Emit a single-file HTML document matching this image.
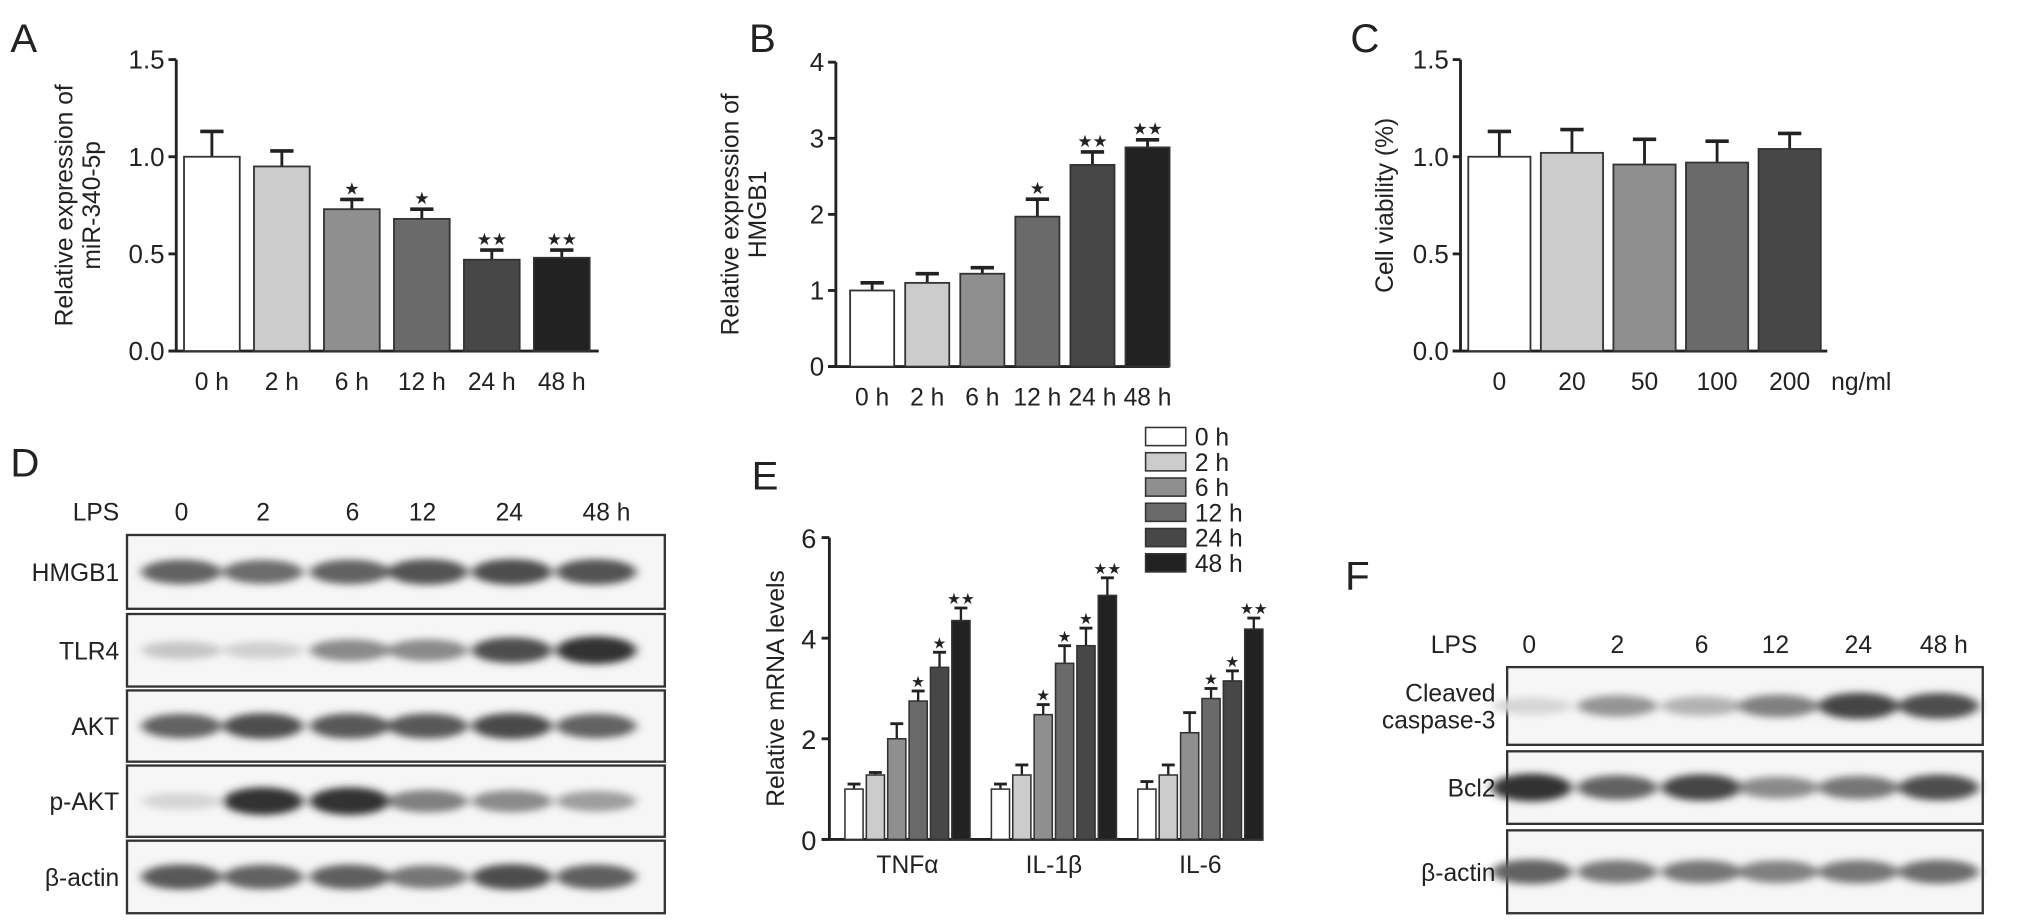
<!DOCTYPE html>
<html><head><meta charset="utf-8">
<style>
html,body{margin:0;padding:0;background:#fff;}
svg{display:block;}
text{font-family:"Liberation Sans",Arial,sans-serif;fill:#222;}
</style></head>
<body>
<svg id="fig" width="2032" height="921" viewBox="0 0 1568 711" preserveAspectRatio="none" xmlns="http://www.w3.org/2000/svg">
<defs>
<filter id="blur" x="-30%" y="-100%" width="160%" height="300%"><feGaussianBlur stdDeviation="4 2.8"/></filter>
</defs>
<g id="root"></g>
</svg>
<script>
// ---- Panel A data ----
const aCats = ["0 h","2 h","6 h","12 h","24 h","48 h"];
const aVals = [1.0,0.95,0.73,0.68,0.47,0.48];
const aErrs = [0.13,0.08,0.05,0.05,0.05,0.04];
const aStars = ["","","*","*","**","**"];
const aTicks = [0,0.5,1.0,1.5];
const aTickLabels = ["0.0","0.5","1.0","1.5"];
// ---- Panel B data ----
const bCats = ["0 h","2 h","6 h","12 h","24 h","48 h"];
const bVals = [1.0,1.1,1.22,1.97,2.65,2.88];
const bErrs = [0.1,0.12,0.08,0.23,0.17,0.1];
const bStars = ["","","","*","**","**"];
const bTicks = [0,1,2,3,4];
const bTickLabels = ["0","1","2","3","4"];
// ---- Panel C data ----
const cCats = ["0","20","50","100","200"];
const cVals = [1.0,1.02,0.96,0.97,1.04];
const cErrs = [0.13,0.12,0.13,0.11,0.08];
const cTicks = [0,0.5,1.0,1.5];
const cTickLabels = ["0.0","0.5","1.0","1.5"];
// ---- Panel E data ----
const eGroups = ["TNF\u03b1","IL-1\u03b2","IL-6"];
const eSeries = ["0 h","2 h","6 h","12 h","24 h","48 h"];
const eTNF = [1.0,1.28,2.0,2.75,3.42,4.35];
const eTNFerr = [0.1,0.05,0.3,0.2,0.3,0.25];
const eIL1 = [1.0,1.28,2.48,3.5,3.85,4.85];
const eIL1err = [0.1,0.2,0.2,0.35,0.35,0.35];
const eIL6 = [1.0,1.28,2.12,2.8,3.15,4.18];
const eIL6err = [0.15,0.2,0.4,0.2,0.2,0.22];
const eStarsTNF = ["","","","*","*","**"];
const eStarsIL1 = ["","","*","*","*","**"];
const eStarsIL6 = ["","","","*","*","**"];
const eTicks = [0,2,4,6];
const eTickLabels = ["0","2","4","6"];
// ---- Blot data (band darkness 0..1) ----
const dLanes = ["0","2","6","12","24","48 h"];
const dProteins = ["HMGB1","TLR4","AKT","p-AKT","\u03b2-actin"];
const dHMGB1 = [0.7,0.65,0.7,0.78,0.8,0.78];
const dTLR4 = [0.2,0.15,0.5,0.5,0.8,0.95];
const dAKT = [0.7,0.8,0.75,0.75,0.82,0.7];
const dPAKT = [0.12,0.95,0.95,0.55,0.5,0.4];
const dActin = [0.75,0.7,0.72,0.6,0.8,0.72];
const fLanes = ["0","2","6","12","24","48 h"];
const fProteins = ["Cleaved\ncaspase-3","Bcl2","\u03b2-actin"];
const fCasp = [0.12,0.45,0.3,0.55,0.85,0.8];
const fBcl2 = [0.95,0.7,0.85,0.5,0.6,0.8];
const fActin = [0.7,0.6,0.6,0.55,0.6,0.65];

const NS="http://www.w3.org/2000/svg";
const root=document.getElementById('root');
function mk(tag,attrs,parent){const e=document.createElementNS(NS,tag);for(const k in attrs)e.setAttribute(k,attrs[k]);(parent||root).appendChild(e);return e;}
function txt(x,y,s,size,anchor,parent,extra){const t=mk('text',Object.assign({x:x,y:y,'font-size':size,'text-anchor':anchor||'middle'},extra||{}),parent);t.textContent=s;return t;}
const grays6=["#ffffff","#cccccc","#8f8f8f","#6a6a6a","#474747","#222222"];

function panelLetter(s,x,y){const t=txt(x,y,s,31,'start');

}

function barChart(o){
  const g=mk('g',{});
  
  
  const yS=v=>o.y0-(v/o.vmax)*(o.y0-o.ytop);
  mk('line',{x1:o.ax,y1:yS(o.vmax),x2:o.ax,y2:o.y0,stroke:'#222','stroke-width':2.2},g);
  mk('line',{x1:o.ax-6,y1:o.y0,x2:o.xend,y2:o.y0,stroke:'#222','stroke-width':2.2},g);
  o.ticks.forEach((t,i)=>{
    mk('line',{x1:o.ax-6,y1:yS(t),x2:o.ax,y2:yS(t),stroke:'#222','stroke-width':2.2},g);
    const l=txt(o.ax-9,yS(t)+7,o.tickLabels[i],20,'end',g);
    
    
  });
  o.vals.forEach((v,i)=>{
    const x=o.x0+i*o.pitch, w=o.bw;
    const top=yS(v), et=yS(v+o.errs[i]);
    mk('line',{x1:x+w/2,y1:top,x2:x+w/2,y2:et,stroke:'#222','stroke-width':2.2},g);
    mk('line',{x1:x+w/2-9,y1:et,x2:x+w/2+9,y2:et,stroke:'#222','stroke-width':2.8},g);
    const r=mk('rect',{x:x,y:top,width:w,height:o.y0-top,fill:o.colors[i],stroke:'#333','stroke-width':1.4},g);
    
    
    if(o.stars&&o.stars[i]){const s=txt(x+w/2,et-4,o.stars[i].replace(/\*/g,'\u2605'),13,'middle',g);
      
      }
    const cl=txt(x+w/2,o.y0+30,o.cats[i],19,'middle',g);
    
    
  });
  o.ylabel.forEach((s,i)=>{
    const lx=o.ylx+i*21, ly=(o.ytop+o.y0)/2;
    const t=txt(lx,ly,s,19,'middle',g,{transform:`rotate(-90 ${lx} ${ly})`});
    
    
  });
  return g;
}

panelLetter('A',8,40);
barChart({name:'chart-a',ax:136,y0:271,ytop:46,vmax:1.5,xend:462,x0:142,pitch:54,bw:43,vals:aVals,errs:aErrs,stars:aStars,cats:aCats,colors:grays6,ticks:aTicks,tickLabels:aTickLabels,ylabel:["Relative expression of","miR-340-5p"],ylx:56});
panelLetter('B',578,40);
barChart({name:'chart-b',ax:645,y0:283,ytop:48,vmax:4,xend:902,x0:656,pitch:42.5,bw:34,vals:bVals,errs:bErrs,stars:bStars,cats:bCats,colors:grays6,ticks:bTicks,tickLabels:bTickLabels,ylabel:["Relative expression of","HMGB1"],ylx:570});
panelLetter('C',1042,40);
barChart({name:'chart-c',ax:1127,y0:271,ytop:46,vmax:1.5,xend:1410,x0:1133,pitch:56,bw:48,vals:cVals,errs:cErrs,stars:null,cats:cCats,colors:["#ffffff","#cccccc","#8f8f8f","#6a6a6a","#474747"],ticks:cTicks,tickLabels:cTickLabels,ylabel:["Cell viability (%)"],ylx:1075});
const ngl=txt(1413,301,"ng/ml",19,'start');



// ---- Panel E ----
panelLetter('E',580,378);
(function(){
  const g=mk('g',{});
  
  
  const ax=640,y0=648,ytop=415,vmax=6;
  const yS=v=>y0-(v/vmax)*(y0-ytop);
  mk('line',{x1:ax,y1:ytop,x2:ax,y2:y0,stroke:'#222','stroke-width':2.2},g);
  mk('line',{x1:ax-6,y1:y0,x2:975,y2:y0,stroke:'#222','stroke-width':2.2},g);
  eTicks.forEach((t,i)=>{
    mk('line',{x1:ax-6,y1:yS(t),x2:ax,y2:yS(t),stroke:'#222','stroke-width':2.2},g);
    const l=txt(ax-10,yS(t)+8,eTickLabels[i],21,'end',g);
    
    
  });
  const yl=txt(605,(ytop+y0)/2,"Relative mRNA levels",19,'middle',g,{transform:`rotate(-90 605 ${(ytop+y0)/2})`});
  
  
  const sets=[[eTNF,eTNFerr,eStarsTNF],[eIL1,eIL1err,eStarsIL1],[eIL6,eIL6err,eStarsIL6]];
  const gx=[652,765,878], pitch=16.5, bw=14;
  sets.forEach((s,gi)=>{
    s[0].forEach((v,i)=>{
      const x=gx[gi]+i*pitch, top=yS(v), et=yS(v+s[1][i]);
      mk('line',{x1:x+bw/2,y1:top,x2:x+bw/2,y2:et,stroke:'#222','stroke-width':1.8},g);
      mk('line',{x1:x+bw/2-5,y1:et,x2:x+bw/2+5,y2:et,stroke:'#222','stroke-width':2.2},g);
      const r=mk('rect',{x:x,y:top,width:bw,height:y0-top,fill:grays6[i],stroke:'#333','stroke-width':1.2},g);
      
      
      if(s[2][i]){const st=txt(x+bw/2,et-3,s[2][i].replace(/\*/g,'\u2605'),12,'middle',g);
        
        }
    });
    const cl=txt(gx[gi]+2.5*pitch+bw/2,y0+26,eGroups[gi],19,'middle',g);
    
    
  });
  eSeries.forEach((s,i)=>{
    const y=330+i*19.5;
    const r=mk('rect',{x:884,y:y,width:31,height:14,fill:grays6[i],stroke:'#333','stroke-width':1.2},g);
    
    
    const t=txt(922,y+14,s,19,'start',g);
    
    
  });
})();

// ---- Blots ----
function blot(o){
  const g=mk('g',{});
  
  
  const lps=txt(o.lpsX,o.lpsY,"LPS",19,'end',g);
  
  
  o.lanes.forEach((l,i)=>{
    const t=txt(o.laneX[i],o.lpsY,l,19,'middle',g);
    
    
  });
  o.rows.forEach((row,ri)=>{
    const [y1,y2]=o.rowY[ri];
    const box=mk('rect',{x:o.bx1,y:y1,width:o.bx2-o.bx1,height:y2-y1,fill:'#f6f6f6',stroke:'#333','stroke-width':1.8},g);
    
    
    const bg=mk('g',{filter:'url(#blur)'},g);
    row.forEach((d,i)=>{
      const c=Math.round(238-d*200);
      const e=mk('ellipse',{cx:o.bandX[i],cy:(y1+y2)/2+(o.bandDy||0),rx:o.bandRx,ry:6+d*5,fill:`rgb(${c},${c},${c})`},bg);
      
      
    });
    const lines=o.proteins[ri].split('\n');
    lines.forEach((s,li)=>{
      const t=txt(o.labelX,(y1+y2)/2+7+(li-(lines.length-1)/2)*21,s,19,'end',g);
      
      
    });
  });
}
panelLetter('D',8,368);
blot({name:'western-blot-d',lanes:dLanes,lpsX:92,lpsY:402,laneX:[140,203,272,326,393,468],
  bx1:98,bx2:513,rowY:[[413,470],[474,530],[533,588],[591,646],[649,705]],
  rows:[dHMGB1,dTLR4,dAKT,dPAKT,dActin],proteins:dProteins,bandX:[140,203,270,330,395,460],bandRx:31,labelX:92});
panelLetter('F',1038,455);
blot({name:'western-blot-f',lanes:fLanes,lpsX:1140,lpsY:504,laneX:[1180,1248,1313,1370,1434,1500],
  bx1:1163,bx2:1530,rowY:[[515,575],[580,636],[641,705]],
  rows:[fCasp,fBcl2,fActin],proteins:fProteins,bandX:[1182,1248,1313,1372,1434,1496],bandRx:31,labelX:1154});
</script>
</body></html>
